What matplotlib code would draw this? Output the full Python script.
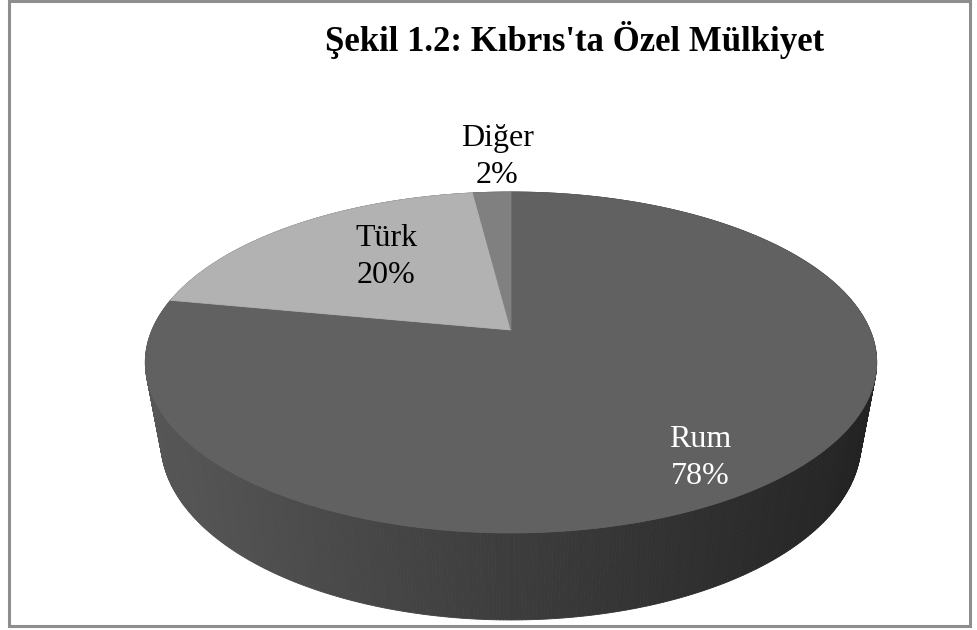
import numpy as np
import matplotlib
matplotlib.use("Agg")
import matplotlib.pyplot as plt
from matplotlib.patches import Polygon, Rectangle

# data
categories = ["Rum", "Türk", "Diğer"]
shares = [78, 20, 2]
title = "Şekil 1.2: Kıbrıs'ta Özel Mülkiyet"

# styles / layout (pixel coords, y down)
top_colors = ["#616161", "#b2b2b2", "#808080"]
text_colors = ["white", "black", "black"]
label_pos = [(700, 447), (386, 246), (497, 146)]  # x centre, baseline of name line
line_gap = 37

W, H = 977, 630
CX, CY = 511, 330        # projected pie centre
SX, SY = 359, 164.3      # horizontal / depth scale
C = 0.1905               # perspective along depth
D = 0.043                # perspective along height
HZ = 82.9                # wall height


def proj(x, y, z=0.0):
    w = 1 + C * y - D * z
    return CX + SX * x / w, CY - (SY * y + HZ * z) / w


def lerp_col(a, b, f):
    a = np.array(matplotlib.colors.to_rgb(a))
    b = np.array(matplotlib.colors.to_rgb(b))
    return tuple(a + (b - a) * f)


plt.rcParams['font.family'] = ['Liberation Serif', 'DejaVu Serif']
fig = plt.figure(figsize=(W / 100, H / 100), dpi=100)
ax = fig.add_axes([0, 0, 1, 1])
ax.set_xlim(0, W)
ax.set_ylim(H, 0)
ax.axis('off')

# border
ax.add_patch(Rectangle((9, 1), 961, 625, fill=False, edgecolor="#8e8e8e", lw=2.2))

# cylinder wall, far strips first
ts = np.radians(np.linspace(0, 360, 721))
strips = []
for t1, t2 in zip(ts[:-1], ts[1:]):
    pts = [proj(np.cos(t1), np.sin(t1)), proj(np.cos(t2), np.sin(t2)),
           proj(np.cos(t2), np.sin(t2), -1), proj(np.cos(t1), np.sin(t1), -1)]
    strips.append((np.sin((t1 + t2) / 2), pts))
strips.sort(key=lambda s: -s[0])
x_left, x_right = CX - 366, CX + 366
for _, pts in strips:
    mx = np.mean([p[0] for p in pts])
    f = np.clip((mx - x_left) / (x_right - x_left), 0, 1)
    col = lerp_col("#575757", "#222222", f)
    ax.add_patch(Polygon(pts, closed=True, facecolor=col, edgecolor=col, lw=0.6))

# top face wedges, clockwise from 12 o'clock
total = float(sum(shares))
start = 90.0
for share, col in zip(shares, top_colors):
    end = start - share / total * 360
    ang = np.radians(np.linspace(start, end, 200))
    pts = [proj(0, 0)] + [proj(np.cos(a), np.sin(a)) for a in ang]
    ax.add_patch(Polygon(pts, closed=True, facecolor=col, edgecolor=col, lw=0.6))
    start = end

# labels
for name, share, (lx, ly), tc in zip(categories, shares, label_pos, text_colors):
    ax.text(lx, ly, name, ha='center', va='baseline', fontsize=23, color=tc)
    ax.text(lx, ly + line_gap, f"{share}%", ha='center', va='baseline', fontsize=23, color=tc)

ax.text(575, 51, title, ha='center', va='baseline', fontsize=25, fontweight='bold', color='black')

fig.savefig("out.png", dpi=100)
